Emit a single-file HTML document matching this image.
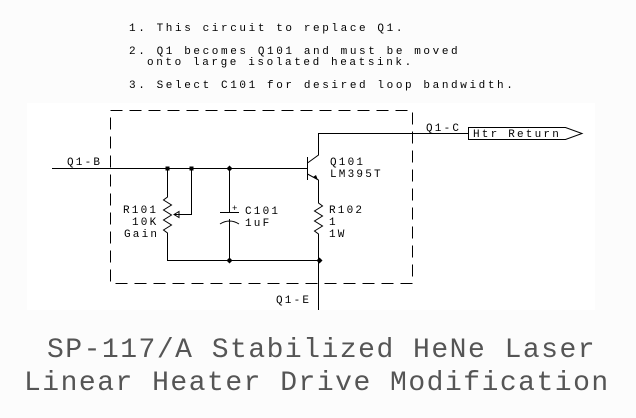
<!DOCTYPE html>
<html><head><meta charset="utf-8"><style>
html,body{margin:0;padding:0;background:#fdfdfd;}
svg{display:block;}
text{font-family:"Liberation Mono",monospace;fill:#000;}
.n{font-size:11px;letter-spacing:2.6px;}
.l{font-size:11px;letter-spacing:2.2px;}
.t{font-size:28px;letter-spacing:1.5px;fill:#555;}
</style></head><body>
<svg width="636" height="418" viewBox="0 0 636 418" xmlns="http://www.w3.org/2000/svg">
<rect x="0" y="0" width="636" height="418" fill="#fcfcfc"/>
<rect x="27" y="103" width="568" height="207" fill="#fff"/>
<text class="n" x="129" y="31">1. This circuit to replace Q1.</text>
<text class="n" x="129" y="54">2. Q1 becomes Q101 and must be moved</text>
<text class="n" x="147" y="65">onto large isolated heatsink.</text>
<text class="n" x="129" y="88">3. Select C101 for desired loop bandwidth.</text>
<g fill="none" stroke="#000" stroke-width="1">
<rect x="110.5" y="110.5" width="302" height="173" stroke-dasharray="12,7"/>
<path d="M52 168.5H307.5"/>
<path d="M167.5 168.5V197l-4 3 8 5-8 5 8 5-8 5 8 5-8 5 4 3V260.5H319.5"/>
<path d="M191.5 168.5V214.5H174"/>
<path d="M174 214.5l5-3v6z"/>
<path d="M229.5 168.5V212M220 212.5H239M220 224q9.5-6 19 0M229.5 219V260.5"/>
<path d="M307.5 157V180M307.5 163L318.5 155V133.5H468M307.5 174L318.5 180V203l4 3-8 5 8 5-8 5 8 5-8 5 4 3V310"/>
<path d="M468.5 127.5H565.5L582 133.5L565.5 139.5H468.5Z"/>
</g>
<path d="M313 177l5 3-2-5z" fill="#000"/>
<g fill="#000"><rect x="165.5" y="166.5" width="4" height="4"/><rect x="189.5" y="166.5" width="4" height="4"/>
<path d="M229.5 165.5l3 3-3 3-3-3z"/><path d="M229.5 257.5l3 3-3 3-3-3z"/><path d="M319.5 257.5l3 3-3 3-3-3z"/></g>
<text class="l" x="67" y="165">Q1-B</text>
<text class="l" x="426" y="131">Q1-C</text>
<text class="l" x="473" y="137">Htr Return</text>
<text class="l" x="330" y="165">Q101</text>
<text class="l" x="330" y="177">LM395T</text>
<text class="l" x="123" y="213">R101</text>
<text class="l" x="132" y="225">10K</text>
<text class="l" x="124" y="237">Gain</text>
<text class="l" x="245" y="214">C101</text>
<text class="l" x="245" y="226">1uF</text>
<text style="font-size:9px" x="232" y="211">+</text>
<text class="l" x="329" y="213">R102</text>
<text class="l" x="329" y="225">1</text>
<text class="l" x="329" y="237">1W</text>
<text class="l" x="276" y="303">Q1-E</text>
<text class="t" x="47" y="357">SP-117/A Stabilized HeNe Laser</text>
<text class="t" x="24" y="390">Linear Heater Drive Modification</text>
</svg>
</body></html>
